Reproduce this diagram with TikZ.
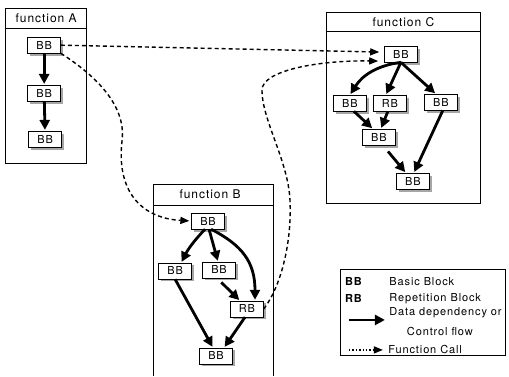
\documentclass[tikz,border=0pt]{standalone}
\usepackage{fontspec}
\setmainfont{TeX Gyre Heros}[LetterSpace=8]
\usetikzlibrary{arrows.meta,shadows}
\tikzset{
	blk/.style={draw, fill=white, minimum width=33pt, minimum height=16pt, inner sep=0pt,
		drop shadow={shadow xshift=2.5pt, shadow yshift=-2.5pt, fill=black!35, opacity=1}},
	flow/.style={line width=2.8pt, -{Triangle[width=10pt,length=10pt]}, shorten >=1pt},
	call/.style={line width=1.4pt, dash pattern=on 4pt off 3pt, -{Triangle[width=7pt,length=9pt]}},
	func/.style={line width=0.8pt},
	ftitle/.style={font=\fontsize{12}{14}\selectfont},
}
\begin{document}
\begin{tikzpicture}[x=1pt, y=-1pt, font=\fontsize{11}{13}\selectfont]
		\filldraw[white] (0,0) rectangle (509,376);

		\draw[func] (5,8) rectangle (86,163);
		\draw[func] (5,28) -- (86,28);
		\node[ftitle] (fa) at (46,18) {function A};

		\draw[func] (326,12) rectangle (481,203);
		\draw[func] (326,31) -- (481,31);
		\node[ftitle] (fc) at (403.5,21.5) {function C};

		\draw[func] (153,376) -- (153,184) -- (273,184) -- (273,376);
		\draw[func] (153,205) -- (273,205);
		\node[ftitle] (fb) at (210,194.5) {function B};

		\node[blk] (a1) at (44,45) {BB};
		\node[blk] (a2) at (44,93) {BB};
		\node[blk] (a3) at (45,139) {BB};

		\node[blk] (c1) at (401,54) {BB};
		\node[blk] (c2) at (350,103) {BB};
		\node[blk] (c3) at (390,103) {RB};
		\node[blk] (c4) at (441,102) {BB};
		\node[blk] (c5) at (379,137) {BB};
		\node[blk] (c6) at (413,181) {BB};

		\node[blk] (b1) at (208,221) {BB};
		\node[blk] (b2) at (175,271) {BB};
		\node[blk] (b3) at (219,270) {BB};
		\node[blk] (b4) at (247,309) {RB};
		\node[blk] (b5) at (216,356) {BB};

		\draw[flow] (a1) -- (a2);
		\draw[flow] (a2) -- (a3);

		\draw[flow] (c1.south) to[bend right=25] (c2.north);
		\draw[flow] (c1.south) -- ([xshift=-4pt]c3.north);
		\draw[flow] (c1.south) -- ([xshift=-5pt]c4.north);
		\draw[flow] ([xshift=4pt]c2.south) -- ([xshift=-6pt]c5.north);
		\draw[flow] ([xshift=-2pt]c3.south) -- ([xshift=2pt]c5.north);
		\draw[flow, shorten <=8pt] ([xshift=4pt]c5.south) -- ([xshift=-7pt]c6.north);
		\draw[flow] ([xshift=2pt]c4.south) -- ([xshift=1pt]c6.north);

		\draw[flow] ([xshift=-3pt]b1.south) to[bend right=8] ([xshift=6pt]b2.north);
		\draw[flow] ([xshift=1pt]b1.south) -- ([xshift=-1pt]b3.north);
		\draw[flow] ([xshift=3pt]b1.south) .. controls (242,245) and (255,262) .. ([xshift=8pt]b4.north);
		\draw[flow, shorten <=6pt] ([xshift=-2pt]b3.south) -- ([xshift=-7pt]b4.north);
		\draw[flow] (b2.south) -- ([xshift=-3pt]b5.north);
		\draw[flow] ([xshift=-2pt]b4.south) -- ([xshift=8pt]b5.north);

		\draw[call, shorten >=5pt] (a1.east) -- ([yshift=2pt]c1.west);
		\draw[call, shorten >=2pt] (a1.south east) .. controls (95,75) and (126,105) .. (122,140)
			.. controls (116,190) and (140,218) .. (b1.west);
		\draw[call, shorten >=6pt] (b4.east) .. controls (282,285) and (292,240) .. (290,200)
			.. controls (288,160) and (262,120) .. (262,90)
			.. controls (262,70) and (320,60) .. ([yshift=-7pt]c1.west);

		\draw[func] (340,269) rectangle (506,355);
		\node (kbb) at (354,282) {\textbf{BB}};
		\node[anchor=west] (kbbt) at (386,282) {Basic Block};
		\node (krb) at (354,299) {\textbf{RB}};
		\node[anchor=west] (krbt) at (386,299) {Repetition Block};
		\coordinate (kf1) at (349,320);
		\coordinate (kf2) at (385,320);
		\draw[flow, shorten >=0pt] (kf1) -- (kf2);
		\node[anchor=west] (kft1) at (386,313) {Data dependency or};
		\node (kft2) at (440,332) {Control flow};
		\coordinate (kc1) at (349,350);
		\coordinate (kc2) at (383,350);
		\draw[line width=1.4pt, dotted, -{Triangle[width=7pt,length=9pt]}] (kc1) -- (kc2);
		\node[anchor=west] (kct) at (385,350) {Function Call};
	\end{tikzpicture}
\end{document}
